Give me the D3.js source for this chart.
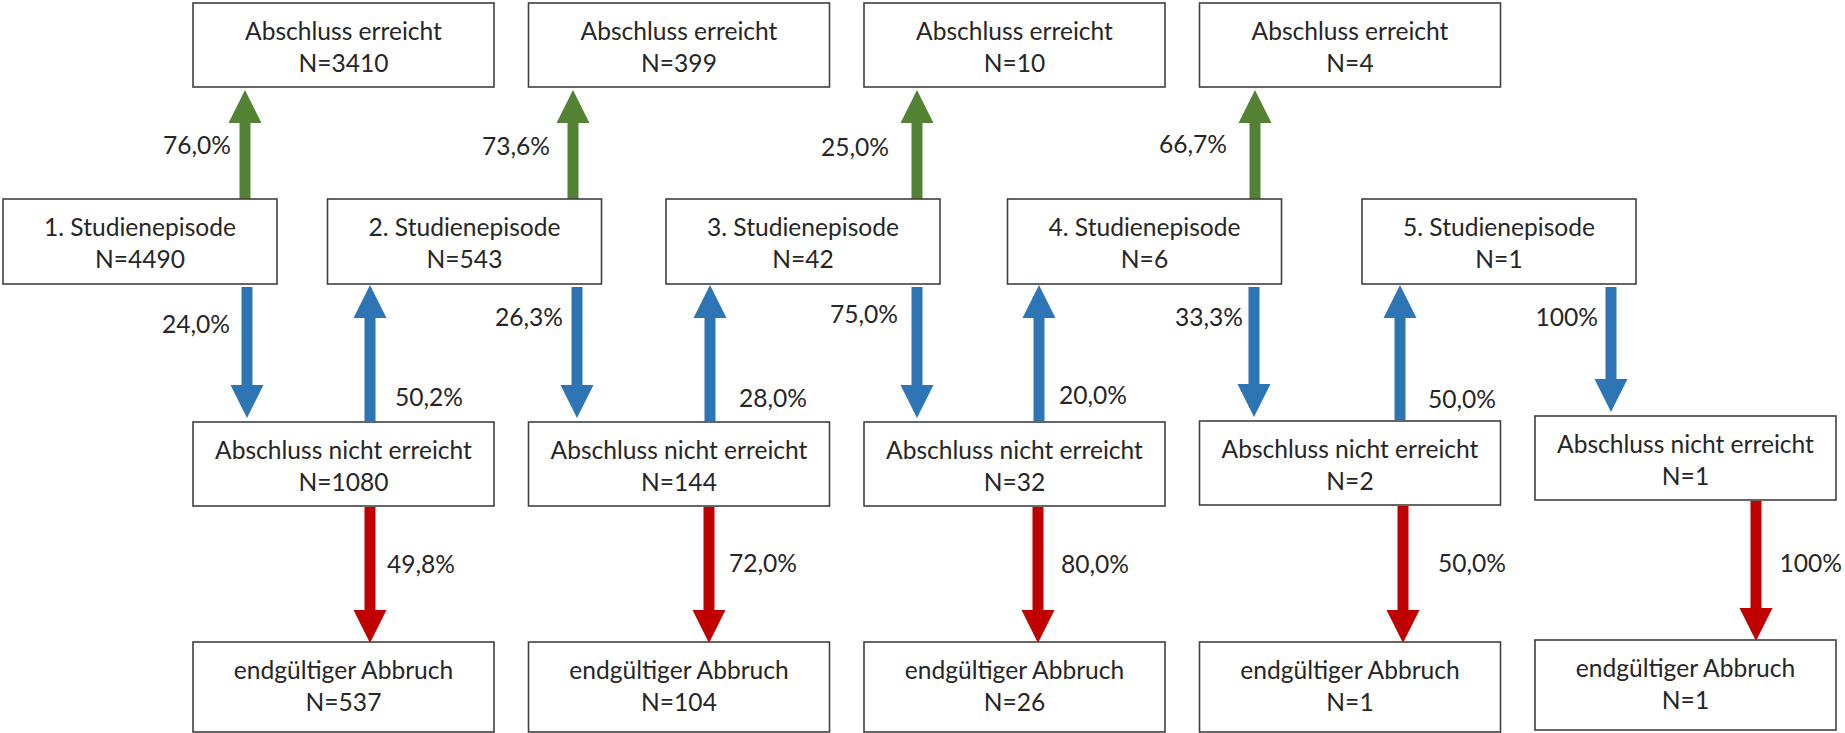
<!DOCTYPE html>
<html><head><meta charset="utf-8">
<script src="https://cdn.jsdelivr.net/npm/d3@7"></script>
<style>body{margin:0;background:#fff}</style>
</head><body><svg id="c" width="1845" height="733"></svg>
<script>
// ---------- data ----------
const episodes = ["1. Studienepisode","2. Studienepisode","3. Studienepisode","4. Studienepisode","5. Studienepisode"];
const episodeN = [4490, 543, 42, 6, 1];
const abschlussN = [3410, 399, 10, 4];
const nichtN = [1080, 144, 32, 2, 1];
const abbruchN = [537, 104, 26, 1, 1];
const pctAbschluss = ["76,0%", "73,6%", "25,0%", "66,7%"];
const pctNicht = ["24,0%", "26,3%", "75,0%", "33,3%", "100%"];
const pctWeiter = ["50,2%", "28,0%", "20,0%", "50,0%"];
const pctAbbruch = ["49,8%", "72,0%", "80,0%", "50,0%", "100%"];
const labelAbschluss = "Abschluss erreicht";
const labelNicht = "Abschluss nicht erreicht";
const labelAbbruch = "endgültiger Abbruch";

// ---------- layout (positions / styles) ----------
const W = 1845, H = 733;
const col = d3.scaleLinear().domain([0, 4]).range([193, 1535]);
const rowTop = d3.scaleOrdinal().domain(["top","ep","nicht","abb"]).range([3, 199, 422, 642]);
const rowH = {top: 84, ep: 85, nicht: 84, abb: 90};
const boxW = 301, epW = 274;
const epDx = [-190, -201, -198, -192, -173];
const nichtDy = [0, 0, 0, -1, -6];
const abbDy = [0, 0, 0, 0, -2];
const greenDx = [52, 44.5, 53, 55.5];
const downDx = [54, 48.5, 53, 54.5, 76];
const upDx = [-158.5, -154, -160.5, -135];
const redDx = [177, 180.5, 174, 203.5, 221];
const lblGreen = {dx: [-14, -23, -28, -28], y: [144, 145, 146, 143]};
const lblDown = {dx: [-17, -14, -19, -11, -13], y: [323, 316, 313, 316, 316]};
const lblUp = {dx: [25, 29, 20, 28], y: [396, 397, 394, 398]};
const lblRed = {dx: [17, 20, 23, 35, 30], y: [563, 562, 563, 562, 562]};
const C = {green: "#548235", blue: "#2E75B6", red: "#C00000", stroke: "#404040", text: "#262626"};
const FONT = "Lato, 'Open Sans', sans-serif";

const svg = d3.select("#c");
svg.append("rect").attr("width", W).attr("height", H).attr("fill", "#fff");

// font size fitted so the widest box label matches the reference width
const probe = svg.append("text").attr("font-family", FONT).attr("font-size", 26).text(labelNicht);
const FS = 26 * 257 / probe.node().getComputedTextLength();
probe.remove();

// ---------- helpers ----------
function arrowPath(x, y0, y1) {
  const sw = 11, hw = 33, hl = 33;
  const dir = y1 > y0 ? 1 : -1;
  const yb = y1 - dir * hl;
  const p = d3.path();
  p.moveTo(x - sw/2, y0); p.lineTo(x - sw/2, yb); p.lineTo(x - hw/2, yb);
  p.lineTo(x, y1); p.lineTo(x + hw/2, yb); p.lineTo(x + sw/2, yb);
  p.lineTo(x + sw/2, y0); p.closePath();
  return p.toString();
}
function box(x, y, w, h, l1, l2) {
  const g = svg.append("g");
  g.append("rect").attr("x", x).attr("y", y).attr("width", w).attr("height", h)
    .attr("fill", "#fff").attr("stroke", C.stroke).attr("stroke-width", 1.6);
  g.append("text").attr("x", x + w/2).attr("y", y + 27).attr("text-anchor", "middle")
    .attr("dominant-baseline", "central").attr("font-family", FONT).attr("font-size", FS)
    .attr("fill", C.text).text(l1);
  g.append("text").attr("x", x + w/2).attr("y", y + 59).attr("text-anchor", "middle")
    .attr("dominant-baseline", "central").attr("font-family", FONT).attr("font-size", FS)
    .attr("fill", C.text).text(l2);
}
function label(x, y, t, anchor) {
  const el = svg.append("text").attr("x", x).attr("y", y).attr("text-anchor", anchor)
    .attr("dominant-baseline", "central").attr("font-family", FONT).attr("font-size", FS)
    .attr("fill", C.text).text(t);
  if (anchor === "start") {
    const w = el.node().getComputedTextLength();
    if (x + w > W - 3) el.attr("x", W - 3 - w);
  }
}

const epBox = i => ({x: col(i) + epDx[i], y: rowTop("ep"), w: epW, h: rowH.ep});
const nichtBox = i => ({x: col(i), y: rowTop("nicht") + nichtDy[i], w: boxW, h: rowH.nicht});
const abbBox = i => ({x: col(i), y: rowTop("abb") + abbDy[i], w: boxW, h: rowH.abb});
const topBox = i => ({x: col(i), y: rowTop("top"), w: boxW, h: rowH.top});

// ---------- arrows ----------
abschlussN.forEach((n, i) => {
  const x = col(i) + greenDx[i];
  const e = epBox(i), t = topBox(i);
  svg.append("path").attr("d", arrowPath(x, e.y + 1, t.y + t.h + 3)).attr("fill", C.green);
  label(x + lblGreen.dx[i], lblGreen.y[i], pctAbschluss[i], "end");
});
nichtN.forEach((n, i) => {
  const x = col(i) + downDx[i];
  const e = epBox(i), b = nichtBox(i);
  svg.append("path").attr("d", arrowPath(x, e.y + e.h + 3, b.y - 4)).attr("fill", C.blue);
  label(x + lblDown.dx[i], lblDown.y[i], pctNicht[i], "end");
});
pctWeiter.forEach((p, i) => {
  const x = col(i + 1) + upDx[i];
  const b = nichtBox(i), e = epBox(i + 1);
  svg.append("path").attr("d", arrowPath(x, b.y - 1, e.y + e.h + 1)).attr("fill", C.blue);
  label(x + lblUp.dx[i], lblUp.y[i], p, "start");
});
abbruchN.forEach((n, i) => {
  const x = col(i) + redDx[i];
  const b = nichtBox(i), a = abbBox(i);
  svg.append("path").attr("d", arrowPath(x, b.y + b.h + 1, a.y + 1)).attr("fill", C.red);
  label(x + lblRed.dx[i], lblRed.y[i], pctAbbruch[i], "start");
});

// ---------- boxes ----------
abschlussN.forEach((n, i) => { const b = topBox(i); box(b.x, b.y, b.w, b.h, labelAbschluss, "N=" + n); });
episodeN.forEach((n, i) => { const b = epBox(i); box(b.x, b.y, b.w, b.h, episodes[i], "N=" + n); });
nichtN.forEach((n, i) => { const b = nichtBox(i); box(b.x, b.y, b.w, b.h, labelNicht, "N=" + n); });
abbruchN.forEach((n, i) => { const b = abbBox(i); box(b.x, b.y, b.w, b.h, labelAbbruch, "N=" + n); });
</script></body></html>
